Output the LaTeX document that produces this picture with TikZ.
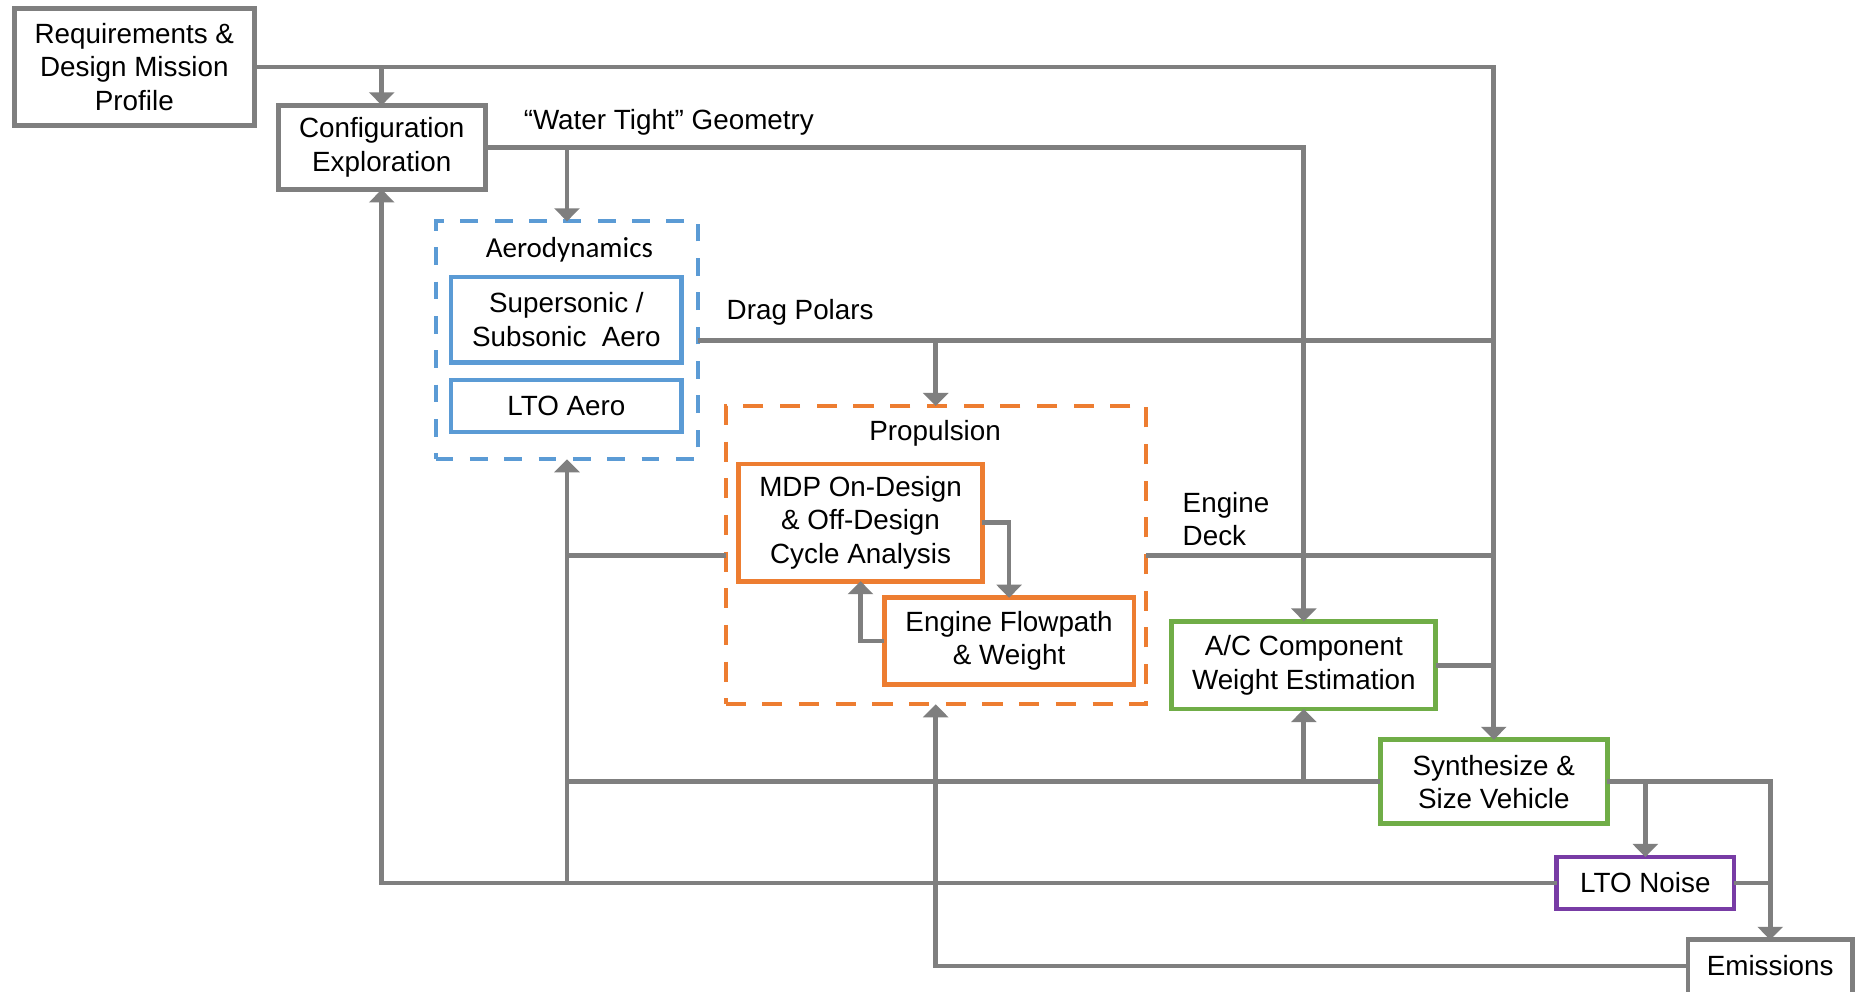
\documentclass[tikz,border=0pt]{standalone}
\usepackage{fontspec}
\setmainfont{Liberation Sans}
\newfontfamily\calfont{Carlito}
\usetikzlibrary{arrows.meta}
\definecolor{lgray}{RGB}{127,127,127}
\definecolor{ablue}{RGB}{91,155,213}
\definecolor{aorange}{RGB}{237,125,49}
\definecolor{agreen}{RGB}{112,173,71}
\definecolor{apurple}{RGB}{120,60,165}
\begin{document}
\begin{tikzpicture}[x=1pt,y=-1pt,
  box/.style={draw=#1, line width=4pt, fill=white, inner sep=0pt, outer sep=0pt, align=center, font=\fontsize{23.5}{28.3}\selectfont},
  grp/.style={draw=#1, line width=3.5pt, inner sep=0pt, outer sep=0pt},
  conn/.style={draw=lgray, line width=4pt},
  arr/.style={conn, -{Triangle[width=21pt,length=11pt]}},
  lbl/.style={font=\fontsize{23.5}{28.3}\selectfont, inner sep=0pt}]
\useasboundingbox (0,0) rectangle (1568,838);
\clip (0,0) rectangle (1568,838);
\fill[white] (0,0) rectangle (1568,838);

% boxes
\node[box=lgray, minimum width=203pt, minimum height=99pt] (req) at (113.5,56.5) {Requirements \&\\Design Mission\\Profile};
\node[box=lgray, minimum width=175pt, minimum height=71pt] (config) at (322.5,124.5) {Configuration\\Exploration};
\node[grp=ablue, dash pattern=on 15pt off 14pt, minimum width=222pt, minimum height=201pt] (aero) at (479,287.5) {};
\node[font=\calfont\fontsize{24.5}{29}\selectfont, inner sep=0pt] (aerolbl) at (481,211) {Aerodynamics};
\node[box=ablue, minimum width=195pt, minimum height=72pt] (super) at (478.5,270) {Supersonic /\\Subsonic~~Aero};
\node[box=ablue, minimum width=195pt, minimum height=44pt] (ltoaero) at (478.5,343) {LTO Aero};
\node[grp=aorange, dash pattern=on 17pt off 14pt, minimum width=355pt, minimum height=252pt] (prop) at (790.5,469) {};
\node[lbl] (proplbl) at (790,366) {Propulsion};
\node[box=aorange, minimum width=206pt, minimum height=99pt] (mdp) at (727,441.5) {MDP On-Design\\\& Off-Design\\Cycle Analysis};
\node[box=aorange, minimum width=211pt, minimum height=73pt] (engine) at (852.5,541.5) {Engine Flowpath\\\& Weight};
\node[box=agreen, minimum width=223pt, minimum height=74pt] (ac) at (1101.5,562) {A/C Component\\Weight Estimation};
\node[box=agreen, minimum width=192pt, minimum height=71pt] (synth) at (1262,660.5) {Synthesize \&\\Size Vehicle};
\node[box=apurple, minimum width=150pt, minimum height=44pt] (noise) at (1390,746) {LTO Noise};
\node[box=lgray, minimum width=139pt, minimum height=56pt] (emis) at (1495.5,822) {};
\node[lbl] (emislbl) at (1495.5,816) {Emissions};

% labels
\node[lbl] (wt) at (565,103) {“Water Tight” Geometry};
\node[lbl] (dp) at (676,264) {Drag Polars};
\node[lbl, align=left, anchor=west] (ed) at (999,438.5) {Engine\\Deck};

% connectors
\draw[arr] (req.east) -| (synth.north);
\draw[arr] (req.east -| config.north) -- (config.north);
\draw[arr] (config.east) -| (ac.north);
\draw[arr] (config.east -| aero.north) -- (aero.north);
\draw[conn] (aero.east) -- (aero.east -| synth.north);
\draw[arr] (aero.east -| prop.north) -- (prop.north);
\draw[conn] (prop.east) -- (prop.east -| synth.north);
\draw[conn] (ac.east) -- (ac.east -| synth.north);
\draw[arr] (mdp.east) -| (engine.north);
\draw[arr] (engine.west) -| (mdp.south);
\draw[conn] (prop.west) -- (prop.west -| aero.south);
\coordinate (j1) at (noise.west -| aero.south);
\draw[arr] (j1) -- (aero.south);
\draw[conn] (synth.west) -- (synth.west -| aero.south);
\draw[arr] (synth.west -| ac.south) -- (ac.south);
\draw[arr] (noise.west) -| (config.south);
\draw[arr] (synth.east) -| (emis.north);
\draw[arr] (synth.east -| noise.north) -- (noise.north);
\draw[conn] (noise.east) -- (noise.east -| emis.north);
\coordinate (ew) at ([yshift=6pt]emis.west);
\draw[arr] (ew) -| (prop.south);
\end{tikzpicture}
\end{document}
